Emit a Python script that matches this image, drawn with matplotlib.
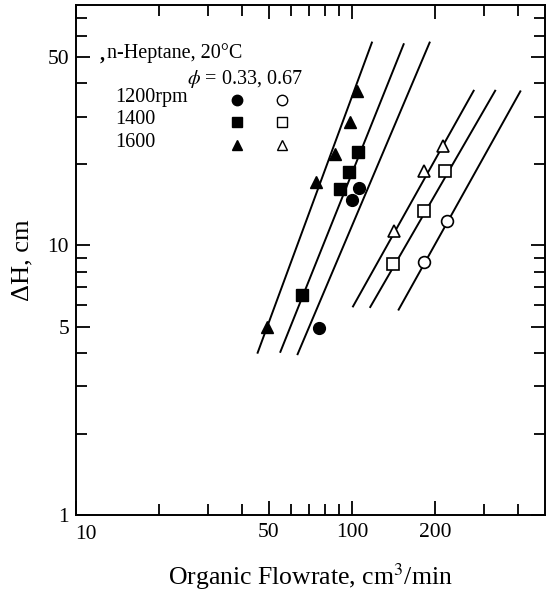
import numpy as np
import matplotlib
matplotlib.use("Agg")
from matplotlib import pyplot as plt
from matplotlib.ticker import FixedLocator, NullFormatter
from matplotlib.transforms import ScaledTranslation

plt.rcParams['font.family'] = ['Liberation Serif', 'DejaVu Serif']
plt.rcParams['mathtext.fontset'] = 'stix'

# phi = 0.33 (filled)
x_1200_a = [75.7, 100.0, 105.8]
y_1200_a = [4.94, 14.7, 16.4]
x_1400_a = [65.9, 90.2, 97.2, 104.8]
y_1400_a = [6.53, 16.2, 18.7, 22.2]
x_1600_a = [49.2, 74.1, 87.0, 98.6, 104.0]
y_1600_a = [4.98, 17.2, 21.9, 28.6, 37.3]

# phi = 0.67 (open)
x_1200_b = [181.7, 220.8]
y_1200_b = [8.67, 12.3]
x_1400_b = [140.3, 181.7, 217.8]
y_1400_b = [8.55, 13.4, 18.85]
x_1600_b = [142.2, 182.8, 213.6]
y_1600_b = [11.3, 18.9, 23.3]

# fitted lines (end points)
line_x = [[45.5, 118.0], [55.0, 153.8], [63.5, 191.0],
          [100.8, 275.8], [116.4, 330.0], [147.5, 407.0]]
line_y = [[4.0, 56.6], [4.03, 55.8], [3.95, 56.6],
          [5.94, 37.5], [5.91, 37.5], [5.78, 37.3]]

fig = plt.figure(figsize=(5.49, 5.91), dpi=100)
ax = fig.add_axes([76/549, 76/591, 469/549, 510/591])
ax.set_xscale('log')
ax.set_yscale('log')
ax.set_xlim(10, 500)
ax.set_ylim(1, 78)

for lx, ly in zip(line_x, line_y):
    ax.plot(lx, ly, color='black', lw=1.4)

ms = 8.5
ax.plot(x_1200_a, y_1200_a, 'o', color='black', ms=ms)
ax.plot(x_1400_a, y_1400_a, 's', color='black', ms=ms - 0.5)
ax.plot(x_1600_a, y_1600_a, '^', color='black', ms=ms)
ax.plot(x_1200_b, y_1200_b, 'o', mfc='white', mec='black', mew=1.2, ms=ms)
ax.plot(x_1400_b, y_1400_b, 's', mfc='white', mec='black', mew=1.2, ms=ms - 0.5)
ax.plot(x_1600_b, y_1600_b, '^', mfc='white', mec='black', mew=1.2, ms=ms)

# legend block as text
tr = ax.transAxes
fs = 14.5
ax.text(0.066, 0.906, 'n-Heptane, 20\u00b0C', transform=tr, fontsize=fs, va='center')
ax.text(0.050, 0.903, ',', transform=tr, fontsize=fs, va='center', fontweight='bold')
ax.text(0.237, 0.855, r'$\phi$ = 0.33, 0.67', transform=tr, fontsize=fs, va='center')
rows = ['1200rpm', '1400', '1600']
row_y = [0.818, 0.775, 0.730]
mk = ['o', 's', '^']
for lab, yy, m in zip(rows, row_y, mk):
    ax.text(0.083, yy, lab, transform=tr, fontsize=fs, va='center')
    ax.plot([0.343], [yy - 0.004], m, color='black', ms=ms - 1, transform=tr, clip_on=False)
    ax.plot([0.439], [yy - 0.004], m, mfc='white', mec='black', mew=1.0, ms=ms - 1,
            transform=tr, clip_on=False)

ax.xaxis.set_major_locator(FixedLocator([10, 50, 100, 200]))
ax.xaxis.set_minor_locator(FixedLocator([20, 30, 40, 60, 70, 80, 90, 300, 400]))
ax.yaxis.set_major_locator(FixedLocator([1, 5, 10, 50]))
ax.yaxis.set_minor_locator(FixedLocator([2, 3, 4, 6, 7, 8, 9, 20, 30, 40, 60, 70]))
ax.set_xticklabels(['10', '50', '100', '200'])
ax.set_yticklabels(['1', '5', '10', '50'])
ax.xaxis.set_minor_formatter(NullFormatter())
ax.yaxis.set_minor_formatter(NullFormatter())
ax.tick_params(which='both', direction='in', top=True, right=True, width=1.3,
               labelsize=15.5)
ax.tick_params(which='major', length=10)
ax.tick_params(axis='x', pad=6)
ax.tick_params(axis='y', pad=5)
ax.tick_params(which='minor', length=8)
for s in ax.spines.values():
    s.set_linewidth(1.4)

# shift the "10" label right so it clears the "1"
lbl = ax.get_xticklabels()[0]
lbl.set_transform(lbl.get_transform() + ScaledTranslation(10/100, -2/100, fig.dpi_scale_trans))

ax.set_xlabel('Organic Flowrate, cm$^3$/min', fontsize=18.5, labelpad=12)
ax.set_ylabel('\u0394H, cm', fontsize=19, labelpad=10)

fig.savefig('out.png', dpi=100)
